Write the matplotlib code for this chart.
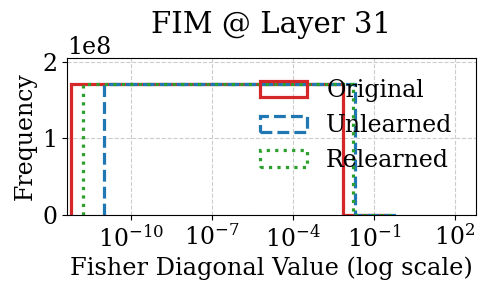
import numpy as np
import matplotlib
matplotlib.use("Agg")
import matplotlib.pyplot as plt

plt.rcParams["font.family"] = "DejaVu Serif"
plt.rcParams["mathtext.fontset"] = "dejavuserif"

# histogram bin edges and counts
labels = ["Original", "Unlearned", "Relearned"]
edges_original = [6.0e-13, 7.2e-3, 0.36]
edges_unlearned = [1.0e-11, 2.0e-2, 0.71]
edges_relearned = [1.7e-12, 1.7e-2, 0.60]
counts_original = [1.712e8, 0]
counts_unlearned = [1.712e8, 0]
counts_relearned = [1.712e8, 0]

colors = ["#d62728", "#1f77b4", "#2ca02c"]
styles = ["-", "--", ":"]

fig = plt.figure(figsize=(4.88, 2.92), dpi=100)
ax = fig.add_axes([0.137, 0.264, 0.838, 0.537])

series = [
    (counts_original, edges_original),
    (counts_unlearned, edges_unlearned),
    (counts_relearned, edges_relearned),
]
for (c, e), lab, col, ls in zip(series, labels, colors, styles):
    ax.hist(e[:-1], bins=e, weights=c, histtype="step", color=col,
            linestyle=ls, linewidth=2.3, label=lab)

ax.set_xscale("log")
ax.set_xlim(10 ** -12.37, 10 ** 2.78)
ax.set_ylim(0, 2.05e8)
ax.set_xticks([1e-10, 1e-7, 1e-4, 1e-1, 1e2])
ax.set_yticks([0, 1e8, 2e8])
ax.minorticks_off()
ax.tick_params(labelsize=17)
ax.yaxis.get_offset_text().set_fontsize(17)
ax.grid(True, linestyle="--", color="#cccccc", linewidth=0.8)

ax.set_title("FIM @ Layer 31", fontsize=21, pad=18)
ax.set_xlabel("Fisher Diagonal Value (log scale)", fontsize=17.3)
ax.set_ylabel("Frequency", fontsize=17)
ax.legend(loc="upper right", frameon=False, fontsize=17,
          bbox_to_anchor=(0.995, 1.0))

fig.savefig("out.png", dpi=100)
